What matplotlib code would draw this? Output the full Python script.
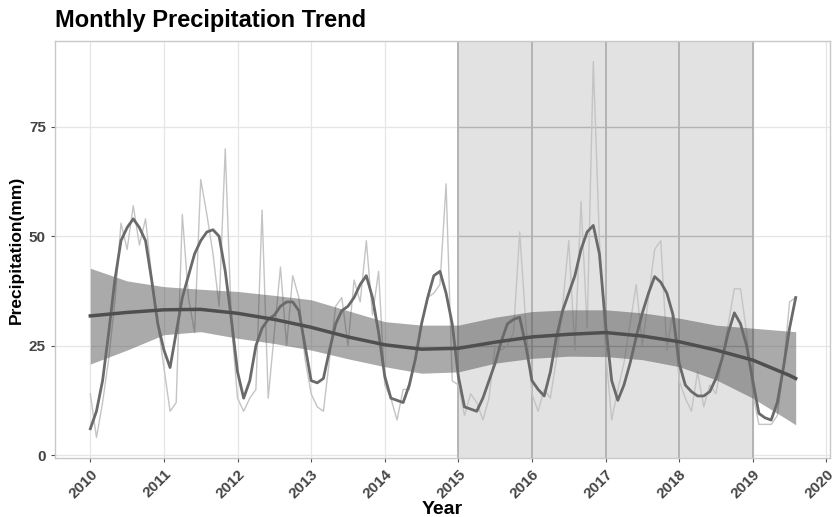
#!/usr/bin/env python3
import numpy as np
import matplotlib.pyplot as plt

# monthly precipitation (mm), Jan 2010 - Aug 2019
raw_precip = [14, 4, 12, 22, 35, 53, 47, 57, 48, 54, 41, 30,
              20, 10, 12, 55, 36, 28, 63, 55, 46, 34, 70, 30,
              13, 10, 13, 15, 56, 13, 28, 43, 25, 41, 36, 22,
              14, 11, 10, 22, 34, 36, 25, 40, 35, 49, 32, 42,
              16, 13, 8, 15, 15, 22, 30, 36, 37, 39, 62, 17,
              16, 9, 14, 12, 8, 13, 25, 24, 25, 28, 51, 30,
              14, 10, 15, 13, 22, 34, 49, 24, 58, 29, 90, 49,
              24, 8, 15, 21, 30, 39, 25, 36, 47, 49, 24, 33,
              17, 13, 10, 19, 11, 16, 14, 22, 30, 38, 38, 28,
              14, 7, 7, 7, 9, 20, 35, 36]

# smoothed monthly series (thick line)
smooth_precip = [6, 10, 17, 28, 40, 49, 52, 54, 52, 49, 40, 30,
                 24, 20, 28, 36, 41, 46, 49, 51, 51.5, 50, 42, 31,
                 19, 13, 17, 25, 29, 31, 32, 34, 35, 35, 33, 25,
                 17, 16.5, 17.5, 24, 30, 33, 34, 36, 39, 41, 36, 28,
                 18, 13, 12.5, 12, 16, 22, 30, 36, 41, 42, 37, 30,
                 18, 11, 10.5, 10, 13, 17, 21, 26, 30, 31, 31.5, 25,
                 17, 15, 13.5, 19, 27, 33, 37, 41, 47, 51, 52.5, 46,
                 30, 17, 12.5, 16, 21, 27, 32.5, 37, 40.8, 39.5, 37, 32,
                 21, 16, 14.5, 13.5, 13.5, 14.5, 17.5, 22, 28, 32.5, 30, 25,
                 17, 9.5, 8.5, 8, 12, 20, 29, 36]

# long-term trend with confidence band
trend_years = [2010.0, 2010.5, 2011.0, 2011.5, 2012.0, 2012.5, 2013.0,
               2013.5, 2014.0, 2014.5, 2015.0, 2015.5, 2016.0, 2016.5,
               2017.0, 2017.5, 2018.0, 2018.5, 2019.0, 2019.5, 2019.583]
trend_mid = [31.8, 32.6, 33.2, 33.3, 32.4, 31.0, 29.2, 27.0, 25.2, 24.2,
             24.4, 25.8, 27.0, 27.6, 28.0, 27.2, 25.9, 24.0, 21.7, 18.2, 17.5]
trend_upper = [42.7, 39.8, 38.5, 37.9, 37.4, 36.5, 35.5, 33.0, 30.5, 29.7,
               29.7, 31.5, 32.8, 33.2, 33.2, 32.5, 31.3, 29.7, 29.0, 28.3, 28.2]
trend_lower = [20.8, 24.0, 27.5, 28.2, 26.7, 25.5, 24.0, 22.0, 20.2, 18.7,
               19.0, 21.0, 22.1, 22.6, 22.5, 21.8, 20.2, 17.2, 13.0, 7.8, 6.9]

year_ticks = list(range(2010, 2021))
y_ticks = [0, 25, 50, 75]
highlight_years = [2015, 2016, 2017, 2018, 2019]

months = 2010 + np.arange(len(raw_precip)) / 12.0

plt.rcParams['font.family'] = ['Liberation Sans', 'DejaVu Sans']

fig = plt.figure(figsize=(8.37, 5.17), dpi=100)
ax = fig.add_axes([0.0657, 0.114, 0.926, 0.807])

ax.set_xlim(2009.52, 2020.05)
ax.set_ylim(-0.7, 94.7)

# grid
ax.set_xticks(year_ticks)
ax.set_yticks(y_ticks)
ax.grid(True, color='#e6e6e6', linewidth=0.9, zorder=0)
ax.set_axisbelow(True)

# highlighted period
ax.axvspan(highlight_years[0], highlight_years[-1], color='#e2e2e2', zorder=1, linewidth=0)
ax.hlines([25, 50, 75], highlight_years[0], highlight_years[-1], color='#b4b4b4', linewidth=1.0, zorder=1.5)
ax.hlines([94.7], highlight_years[0], highlight_years[-1], color='#b4b4b4', linewidth=1.5, zorder=1.5)
for yr in highlight_years:
    ax.axvline(yr, color='#b0b0b0', linewidth=1.3, zorder=1.5)

ax.plot(months, raw_precip, color='#c4c4c4', linewidth=1.0, zorder=2)
ax.fill_between(trend_years, trend_lower, trend_upper, color='#444444', alpha=0.45, linewidth=0, zorder=3)
ax.plot(months, smooth_precip, color='#6a6a6a', linewidth=2.0, zorder=4)
ax.plot(trend_years, trend_mid, color='#4f4f4f', linewidth=2.5, zorder=5)

for side in ['top', 'right', 'left', 'bottom']:
    ax.spines[side].set_color('#c8c8c8')
    ax.spines[side].set_linewidth(1.0)

ax.tick_params(axis='both', length=3, color='#555555', width=0.8)
for lab in ax.get_yticklabels():
    lab.set_fontsize(11)
    lab.set_fontweight('bold')
    lab.set_color('#444444')
ax.set_xticklabels([str(y) for y in year_ticks], rotation=45, ha='right',
                   rotation_mode='anchor', fontsize=11, fontweight='bold', color='#444444')

ax.set_xlabel('Year', fontsize=14, fontweight='bold')
ax.xaxis.set_label_coords(0.5, -0.104)
ax.set_ylabel('Precipitation(mm)', fontsize=12.5, fontweight='bold')
ax.yaxis.set_label_coords(-0.04, 0.5)
ax.set_title('Monthly Precipitation Trend', fontsize=17, fontweight='bold', loc='left', pad=10)

fig.savefig('out.png', dpi=100)
